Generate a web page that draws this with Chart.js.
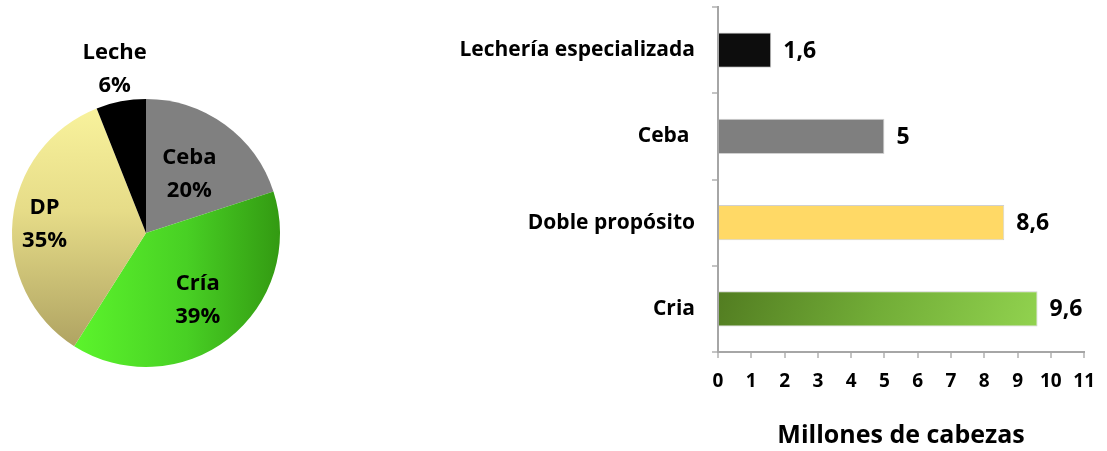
<!DOCTYPE html>
<html>
<head>
<meta charset="utf-8">
<script src="https://cdn.jsdelivr.net/npm/chart.js@4.4.1/dist/chart.umd.min.js"></script>
<style>
  html, body { margin: 0; padding: 0; background: #fff; }
  #wrap { position: relative; width: 1107px; height: 451px; }
  #pieBox { position: absolute; left: 0; top: 0; width: 300px; height: 451px; }
  #barBox { position: absolute; left: 430px; top: 0; width: 677px; height: 451px; }
</style>
</head>
<body>
<div id="wrap">
  <div id="pieBox"><canvas id="pieChart"></canvas></div>
  <div id="barBox"><canvas id="barChart"></canvas></div>
</div>
<script>
// reparto del hato por orientación (%)
const pieLabels = ["Ceba", "Cría", "DP", "Leche"];
const pieShares = [20, 39, 35, 6];

// millones de cabezas por orientación
const barLabels = ["Lechería especializada", "Ceba ", "Doble propósito", "Cria"];
const barValues = [1.6, 5, 8.6, 9.6];
const xMin = 0;
const xMax = 11;

const FONT = "'Open Sans', 'Noto Sans', sans-serif";
Chart.defaults.font.family = FONT;
Chart.defaults.color = "#000";

// how far out (fraction of radius) each slice label sits
const labelRadius = [0.55, 0.63, 0.76, 1.25];

function pieColor(c) {
  const chart = c.chart;
  const area = chart.chartArea;
  if (!area) return "#888";
  const ctx = chart.ctx;
  if (c.dataIndex === 0) return "#808080";
  if (c.dataIndex === 1) {
    const g = ctx.createLinearGradient(area.left + 60, 0, area.right, 0);
    g.addColorStop(0, "#5cf52c");
    g.addColorStop(0.55, "#48d024");
    g.addColorStop(1, "#339a12");
    return g;
  }
  if (c.dataIndex === 2) {
    const g = ctx.createLinearGradient(0, area.top, 0, area.bottom - 20);
    g.addColorStop(0, "#faf49e");
    g.addColorStop(0.45, "#e6dc88");
    g.addColorStop(1, "#afa362");
    return g;
  }
  return "#000";
}

const pieLabelPlugin = {
  id: "pieLabels",
  afterDatasetsDraw(chart) {
    const ctx = chart.ctx;
    const meta = chart.getDatasetMeta(0);
    const total = pieShares.reduce((a, b) => a + b, 0);
    ctx.save();
    ctx.font = "bold 22px " + FONT;
    ctx.fillStyle = "#000";
    ctx.textAlign = "center";
    ctx.textBaseline = "middle";
    meta.data.forEach((arc, i) => {
      const p = arc.getProps(["x", "y", "startAngle", "endAngle", "outerRadius"], true);
      const mid = (p.startAngle + p.endAngle) / 2;
      const r = p.outerRadius * labelRadius[i];
      const x = p.x + Math.cos(mid) * r;
      const y = p.y + Math.sin(mid) * r;
      ctx.fillText(pieLabels[i], x, y - 16);
      ctx.fillText(Math.round(pieShares[i] / total * 100) + "%", x, y + 17);
    });
    ctx.restore();
  }
};

new Chart(document.getElementById("pieChart"), {
  type: "pie",
  data: {
    labels: pieLabels,
    datasets: [{
      data: pieShares,
      backgroundColor: pieColor,
      borderWidth: 0
    }]
  },
  options: {
    responsive: true,
    maintainAspectRatio: false,
    animation: false,
    layout: { padding: { left: 12, right: 20, top: 99, bottom: 84 } },
    plugins: { legend: { display: false }, tooltip: { enabled: false } }
  },
  plugins: [pieLabelPlugin]
});

function barColor(c) {
  const chart = c.chart;
  if (!chart.chartArea) return "#888";
  const ctx = chart.ctx;
  switch (c.dataIndex) {
    case 0: return "#0d0d0d";
    case 1: return "#7f7f7f";
    case 2: return "#ffd966";
    default: {
      const xs = chart.scales.x, ys = chart.scales.y;
      const cy = ys.getPixelForValue(c.dataIndex);
      const x0 = xs.getPixelForValue(0);
      const x1 = xs.getPixelForValue(barValues[c.dataIndex]);
      const g = ctx.createLinearGradient(x0, cy - 60, x1, cy + 60);
      g.addColorStop(0, "#4f781f");
      g.addColorStop(0.5, "#72ad37");
      g.addColorStop(1, "#94d651");
      return g;
    }
  }
}

const barValuePlugin = {
  id: "barValues",
  afterDatasetsDraw(chart) {
    const ctx = chart.ctx;
    const meta = chart.getDatasetMeta(0);
    ctx.save();
    ctx.font = "bold 23px " + FONT;
    ctx.fillStyle = "#000";
    ctx.textAlign = "left";
    ctx.textBaseline = "middle";
    meta.data.forEach((bar, i) => {
      ctx.fillText(String(barValues[i]).replace(".", ","), bar.x + 12, bar.y + 1);
    });
    ctx.restore();
  }
};

new Chart(document.getElementById("barChart"), {
  type: "bar",
  data: {
    labels: barLabels,
    datasets: [{
      data: barValues,
      backgroundColor: barColor,
      borderColor: "#d0d0d0",
      borderWidth: 1,
      barPercentage: 0.41,
      categoryPercentage: 1
    }]
  },
  options: {
    indexAxis: "y",
    responsive: true,
    maintainAspectRatio: false,
    animation: false,
    layout: { padding: { top: 7, right: 20, left: 0, bottom: 0 } },
    plugins: { legend: { display: false }, tooltip: { enabled: false } },
    scales: {
      x: {
        min: xMin,
        max: xMax,
        ticks: { stepSize: 1, padding: 12, font: { size: 19, weight: "bold" }, color: "#000" },
        grid: { drawOnChartArea: false, tickLength: 6, lineWidth: 2, color: "#c4c4c4" },
        border: { color: "#a6a6a6", width: 2 },
        title: {
          display: true,
          text: "Millones de cabezas",
          font: { size: 25, weight: "bold" },
          color: "#000",
          padding: { top: 4, bottom: 0 }
        },
        afterFit(s) { s.height = 99; }
      },
      y: {
        ticks: { padding: 17, font: { size: 21, weight: "bold" }, color: "#000" },
        grid: { drawOnChartArea: false, tickLength: 6, lineWidth: 2, color: "#c4c4c4" },
        border: { color: "#a6a6a6", width: 2 },
        afterFit(s) {
          s.width = 288;
          s.paddingTop = 0;
          s.paddingBottom = 0;
        }
      }
    }
  },
  plugins: [barValuePlugin]
});
</script>
</body>
</html>
